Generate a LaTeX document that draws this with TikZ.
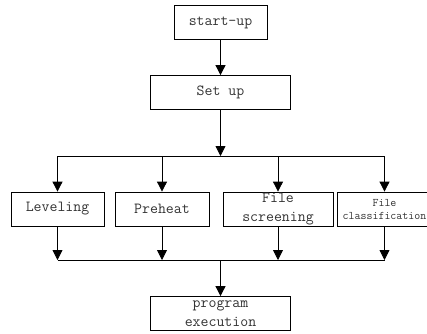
\documentclass[tikz,border=0pt]{standalone}
\usetikzlibrary{arrows.meta}

\begin{document}
\begin{tikzpicture}[
        x=1pt, y=-1pt,
        line width=0.8pt,
        box/.style={
            draw,
            rectangle,
            minimum height=34pt,
            inner sep=0pt,
            align=center,
            text=black!80,
            font=\ttfamily\fontsize{15.4}{19}\selectfont
        },
        arr/.style={-{Triangle[length=10pt,width=10pt]}}
    ]
        \useasboundingbox (0,0) rectangle (427,333);

        % Top boxes
        \node[box, minimum width=93pt] (start) at (220.5,22.5) {start-up};
        \node[box, minimum width=140pt] (setup) at (220.5,92.5) {Set up};
        \draw[arr] (start) -- (setup);

        % Task boxes
        \foreach \n/\x/\w/\t in {level/57.5/93/Leveling,heat/162/94/Preheat,screen/278/110/{File\\screening}} {
            \node[box, minimum width=\w pt] (\n) at (\x,209) {\t};
        }
        \node[box, minimum width=95pt, font=\ttfamily\fontsize{11.6}{13}\selectfont] (fcls) at (384.5,209) {File\\classification};

        % Final box
        \node[box, minimum width=140pt] (prog) at (220.5,313.5) {program\\execution};

        % Branch and merge lines
        \coordinate (split) at (220.5,156);
        \coordinate (join) at (220.5,260);
        \draw[arr] (setup) -- (split);
        \draw (level.north |- split) -- (fcls.north |- split);
        \foreach \n in {level,heat,screen,fcls} {
            \draw[arr] (\n.north |- split) -- (\n.north);
            \draw[arr] (\n.south) -- (\n.south |- join);
        }
        \draw (level.south |- join) -- (fcls.south |- join);
        \draw[arr] (join) -- (prog);
    \end{tikzpicture}
\end{document}
